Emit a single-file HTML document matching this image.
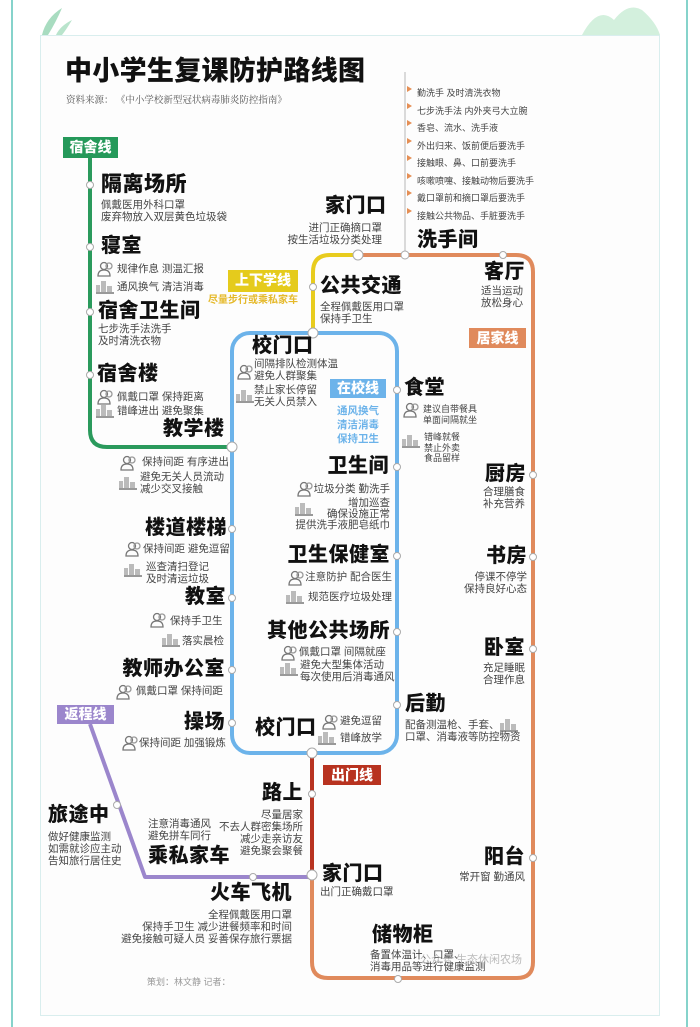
<!DOCTYPE html>
<html><head><meta charset="utf-8"><style>
*{margin:0;padding:0;box-sizing:border-box}
body{width:700px;height:1027px;background:#fff;position:relative;overflow:hidden;font-family:"Liberation Sans","Noto Sans CJK SC",sans-serif;color:#333}
.t{position:absolute;white-space:nowrap;line-height:1}
.h{font-weight:900;font-size:20px;color:#111;letter-spacing:0.5px}
.d{font-size:10.5px;color:#444;line-height:12px}
.s{font-size:9px;color:#444}
.r{text-align:right}
.lb{position:absolute;color:#fff;font-weight:900;font-size:14px;text-align:center;line-height:20px}
</style></head><body>
<div style="position:absolute;left:11px;top:0;width:2px;height:1027px;background:#86d3cb"></div>
<div style="position:absolute;left:686px;top:0;width:2px;height:1027px;background:#86d3cb"></div>
<div style="position:absolute;left:40px;top:35px;width:620px;height:981px;border:1px solid #d9eeee;background:#fdfdfd"></div>
<svg style="position:absolute;left:0;top:0" width="700" height="1027">
<path d="M42,35 Q46,18 62,8 Q56,22 48,35Z" fill="#a8dcc0"/>
<path d="M56,35 Q60,26 72,20 Q66,30 62,35Z" fill="#b9e4cc"/>
<path d="M582,35 Q598,5 614,20 Q628,2 642,10 Q656,22 660,35Z" fill="#d3f0dd"/>
<g fill="none" stroke-width="4" stroke-linejoin="round">
<path d="M405,72 V255" stroke="#cfcfcf" stroke-width="1.5"/>
<path d="M90,158 V430 Q90,447 107,447 H232" stroke="#2a9a5c"/>
<rect x="232" y="333" width="165" height="420" rx="18" stroke="#6cb3ea"/>
<path d="M313,333 V272 Q313,255 330,255 H358" stroke="#e8cc1e"/>
<path d="M358,255 H516 Q533,255 533,272 V962 Q533,978 517,978 H328 Q312,978 312,962 V875" stroke="#e08a5c"/>
<path d="M312,753 V875" stroke="#b83320"/>
<path d="M90,724 L145,877 H312" stroke="#9b86cc"/>
</g>
<g fill="#e58f55">
<path d="M407,86 l5,3 l-5,3z"/><path d="M407,103 l5,3 l-5,3z"/><path d="M407,120 l5,3 l-5,3z"/><path d="M407,138 l5,3 l-5,3z"/><path d="M407,155 l5,3 l-5,3z"/><path d="M407,173 l5,3 l-5,3z"/><path d="M407,190 l5,3 l-5,3z"/><path d="M407,208 l5,3 l-5,3z"/>
</g>
<g fill="#fff" stroke="#aaa" stroke-width="1">
<circle cx="90" cy="185" r="3.5"/><circle cx="90" cy="247" r="3.5"/><circle cx="90" cy="312" r="3.5"/><circle cx="90" cy="375" r="3.5"/>
<circle cx="232" cy="529" r="3.5"/><circle cx="232" cy="598" r="3.5"/><circle cx="232" cy="670" r="3.5"/><circle cx="232" cy="723" r="3.5"/>
<circle cx="397" cy="390" r="3.5"/><circle cx="397" cy="467" r="3.5"/><circle cx="397" cy="556" r="3.5"/><circle cx="397" cy="632" r="3.5"/><circle cx="397" cy="705" r="3.5"/>
<circle cx="533" cy="475" r="3.5"/><circle cx="533" cy="557" r="3.5"/><circle cx="533" cy="649" r="3.5"/><circle cx="533" cy="858" r="3.5"/>
<circle cx="503" cy="255" r="3.5"/><circle cx="313" cy="287" r="3.5"/><circle cx="312" cy="794" r="3.5"/><circle cx="117" cy="805" r="3.5"/><circle cx="253" cy="877" r="3.5"/><circle cx="398" cy="979" r="3.5"/>
<circle cx="232" cy="447" r="5"/><circle cx="313" cy="333" r="5"/><circle cx="358" cy="255" r="5"/><circle cx="312" cy="753" r="5"/><circle cx="312" cy="875" r="5"/><circle cx="405" cy="255" r="4"/>
</g>
<defs>
<g id="p" fill="none" stroke="#777" stroke-width="1.3"><circle cx="7" cy="5" r="3.5"/><path d="M1,15 Q1,9 7,9 Q13,9 13,15Z"/><circle cx="12" cy="5" r="3" stroke="#999"/></g>
<g id="b" fill="#bbb"><rect x="0" y="5" width="4" height="9"/><rect x="5" y="1" width="5" height="13"/><rect x="11" y="6" width="5" height="8"/><rect x="0" y="12" width="18" height="2" fill="#999"/></g>
</defs>
<use href="#p" x="97" y="261"/><use href="#b" x="96" y="280"/>
<use href="#p" x="97" y="389"/><use href="#b" x="96" y="404"/>
<use href="#p" x="120" y="455"/><use href="#b" x="119" y="476"/>
<use href="#p" x="125" y="541"/><use href="#b" x="124" y="563"/>
<use href="#p" x="150" y="612"/><use href="#b" x="162" y="633"/>
<use href="#p" x="116" y="684"/><use href="#p" x="122" y="735"/>
<use href="#p" x="237" y="364"/><use href="#b" x="236" y="389"/>
<use href="#p" x="297" y="481"/><use href="#b" x="295" y="502"/>
<use href="#p" x="288" y="570"/><use href="#b" x="286" y="590"/>
<use href="#p" x="281" y="645"/><use href="#b" x="280" y="662"/>
<use href="#p" x="322" y="714"/><use href="#b" x="318" y="731"/>
<use href="#p" x="403" y="402"/><use href="#b" x="402" y="434"/>
<use href="#b" x="500" y="718"/>
</svg>

<div class="t" style="left:65px;top:58px;font-size:27px;font-weight:900;color:#111;letter-spacing:0.3px">中小学生复课防护路线图</div>
<div class="t" style="left:66px;top:97px;font-size:9.5px;color:#555;font-family:'Liberation Serif','Noto Serif CJK SC',serif">资料来源： 《中小学校新型冠状病毒肺炎防控指南》</div>

<div class="lb" style="left:63px;top:137px;width:55px;height:21px;background:#25995a">宿舍线</div>
<div class="lb" style="left:228px;top:270px;width:70px;height:22px;background:#e5cb1c">上下学线</div>
<div class="t" style="left:208px;top:296px;font-size:10px;color:#e5b92a;font-weight:700">尽量步行或乘私家车</div>
<div class="lb" style="left:330px;top:379px;width:56px;height:19px;background:#6cb3ea;line-height:19px">在校线</div>
<div class="t" style="left:337px;top:404px;font-size:10.5px;color:#6cb3ea;font-weight:700;line-height:14px">通风换气<br>清洁消毒<br>保持卫生</div>
<div class="lb" style="left:469px;top:328px;width:57px;height:20px;background:#e08a5c">居家线</div>
<div class="lb" style="left:57px;top:705px;width:57px;height:19px;background:#9b86cc;line-height:19px">返程线</div>
<div class="lb" style="left:323px;top:765px;width:58px;height:20px;background:#b83320">出门线</div>

<div class="t h" style="left:101px;top:174px;font-size:21px">隔离场所</div>
<div class="t d" style="left:101px;top:199px">佩戴医用外科口罩<br>废弃物放入双层黄色垃圾袋</div>
<div class="t h" style="left:101px;top:236px">寝室</div>
<div class="t d" style="left:117px;top:263px">规律作息 测温汇报</div>
<div class="t d" style="left:117px;top:281px">通风换气 清洁消毒</div>
<div class="t h" style="left:98px;top:301px">宿舍卫生间</div>
<div class="t d" style="left:98px;top:323px">七步洗手法洗手<br>及时清洗衣物</div>
<div class="t h" style="left:97px;top:364px">宿舍楼</div>
<div class="t d" style="left:117px;top:391px">佩戴口罩 保持距离</div>
<div class="t d" style="left:117px;top:405px">错峰进出 避免聚集</div>
<div class="t h" style="left:163px;top:419px">教学楼</div>
<div class="t d" style="left:142px;top:456px">保持间距 有序进出</div>
<div class="t d" style="left:140px;top:471px">避免无关人员流动<br>减少交叉接触</div>
<div class="t h r" style="right:473px;top:518px">楼道楼梯</div>
<div class="t d" style="left:143px;top:543px">保持间距 避免逗留</div>
<div class="t d" style="left:146px;top:561px">巡查清扫登记<br>及时清运垃圾</div>
<div class="t h r" style="right:474px;top:587px">教室</div>
<div class="t d" style="left:170px;top:615px">保持手卫生</div>
<div class="t d" style="left:182px;top:635px">落实晨检</div>
<div class="t h r" style="right:475px;top:659px">教师办公室</div>
<div class="t d" style="left:136px;top:685px">佩戴口罩 保持间距</div>
<div class="t h r" style="right:475px;top:712px">操场</div>
<div class="t d" style="left:139px;top:737px">保持间距 加强锻炼</div>

<div class="t h" style="left:252px;top:336px">校门口</div>
<div class="t d" style="left:254px;top:358px">间隔排队检测体温<br>避免人群聚集</div>
<div class="t d" style="left:254px;top:384px">禁止家长停留<br>无关人员禁入</div>
<div class="t h r" style="right:311px;top:456px">卫生间</div>
<div class="t d r" style="right:310px;top:483px">垃圾分类 勤洗手</div>
<div class="t d r" style="right:310px;top:498px;line-height:11px">增加巡查<br>确保设施正常<br>提供洗手液肥皂纸巾</div>
<div class="t h r" style="right:310px;top:545px">卫生保健室</div>
<div class="t d r" style="right:308px;top:571px">注意防护 配合医生</div>
<div class="t d r" style="right:308px;top:591px">规范医疗垃圾处理</div>
<div class="t h r" style="right:310px;top:621px">其他公共场所</div>
<div class="t d" style="left:299px;top:646px">佩戴口罩 间隔就座</div>
<div class="t d" style="left:300px;top:659px">避免大型集体活动<br>每次使用后消毒通风</div>
<div class="t h" style="left:255px;top:718px">校门口</div>
<div class="t d" style="left:340px;top:715px">避免逗留</div>
<div class="t d" style="left:340px;top:732px">错峰放学</div>

<div class="t h" style="left:325px;top:196px">家门口</div>
<div class="t d r" style="right:318px;top:222px">进门正确摘口罩<br>按生活垃圾分类处理</div>
<div class="t h" style="left:320px;top:276px">公共交通</div>
<div class="t d" style="left:320px;top:301px">全程佩戴医用口罩<br>保持手卫生</div>
<div class="t s" style="left:417px;top:85px;line-height:17.5px">勤洗手 及时清洗衣物<br>七步洗手法 内外夹弓大立腕<br>香皂、流水、洗手液<br>外出归来、饭前便后要洗手<br>接触眼、鼻、口前要洗手<br>咳嗽喷嚏、接触动物后要洗手<br>戴口罩前和摘口罩后要洗手<br>接触公共物品、手脏要洗手</div>
<div class="t h" style="left:417px;top:230px">洗手间</div>

<div class="t h" style="left:484px;top:262px">客厅</div>
<div class="t d r" style="right:177px;top:285px">适当运动<br>放松身心</div>
<div class="t h" style="left:404px;top:378px">食堂</div>
<div class="t s" style="left:423px;top:404px;line-height:11px">建议自带餐具<br>单面间隔就坐</div>
<div class="t s" style="left:424px;top:432px;line-height:10.5px">错峰就餐<br>禁止外卖<br>食品留样</div>
<div class="t h r" style="right:174px;top:464px">厨房</div>
<div class="t d r" style="right:175px;top:486px">合理膳食<br>补充营养</div>
<div class="t h r" style="right:173px;top:546px">书房</div>
<div class="t d r" style="right:173px;top:571px">停课不停学<br>保持良好心态</div>
<div class="t h r" style="right:175px;top:638px">卧室</div>
<div class="t d r" style="right:175px;top:662px">充足睡眠<br>合理作息</div>
<div class="t h" style="left:405px;top:694px">后勤</div>
<div class="t d" style="left:405px;top:719px">配备测温枪、手套、<br>口罩、消毒液等防控物资</div>
<div class="t h r" style="right:175px;top:847px">阳台</div>
<div class="t d r" style="right:175px;top:871px">常开窗 勤通风</div>
<div class="t h" style="left:372px;top:925px">储物柜</div>
<div class="t d" style="left:370px;top:949px">备置体温计、口罩、<br>消毒用品等进行健康监测</div>
<div class="t" style="left:420px;top:955px;font-size:11px;color:#bbb">公众号 生态休闲农场</div>

<div class="t h r" style="right:397px;top:783px">路上</div>
<div class="t d r" style="right:397px;top:809px">尽量居家<br>不去人群密集场所<br>减少走亲访友<br>避免聚会聚餐</div>
<div class="t h" style="left:48px;top:805px">旅途中</div>
<div class="t d" style="left:48px;top:831px">做好健康监测<br>如需就诊应主动<br>告知旅行居住史</div>
<div class="t d" style="left:148px;top:818px">注意消毒通风<br>避免拼车同行</div>
<div class="t h" style="left:148px;top:846px">乘私家车</div>
<div class="t h" style="left:322px;top:864px">家门口</div>
<div class="t d" style="left:320px;top:886px">出门正确戴口罩</div>
<div class="t h r" style="right:408px;top:883px">火车飞机</div>
<div class="t d r" style="right:408px;top:909px">全程佩戴医用口罩<br>保持手卫生 减少进餐频率和时间<br>避免接触可疑人员 妥善保存旅行票据</div>
<div class="t" style="left:147px;top:978px;font-size:9px;color:#999">策划：林文静 记者：</div>
</body></html>
